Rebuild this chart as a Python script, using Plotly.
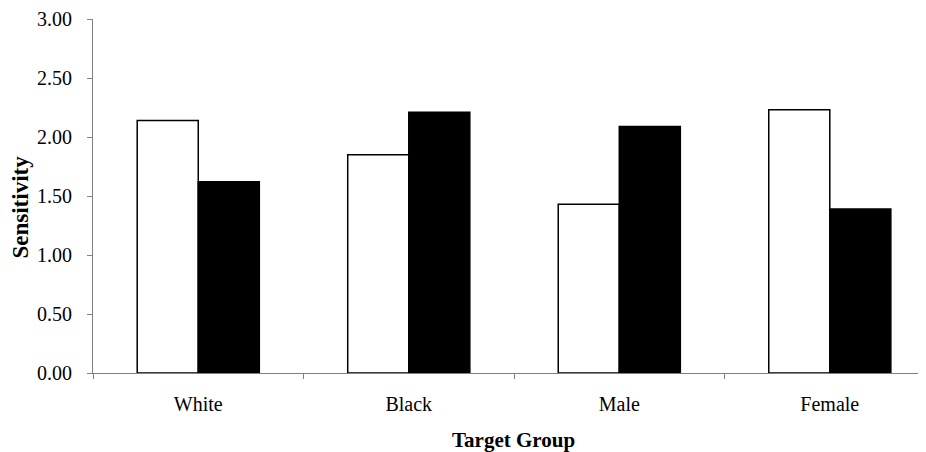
import plotly.graph_objects as go

categories = ["White", "Black", "Male", "Female"]
open_values = [2.14, 1.85, 1.43, 2.23]
filled_values = [1.62, 2.21, 2.09, 1.39]
y_tick_values = [0, 0.5, 1.0, 1.5, 2.0, 2.5, 3.0]

font_family = "Liberation Serif, Times New Roman, serif"

fig = go.Figure()
fig.add_trace(go.Bar(
    x=categories, y=open_values, name="Open",
    marker=dict(color="white", line=dict(color="black", width=1.5)),
))
fig.add_trace(go.Bar(
    x=categories, y=filled_values, name="Filled",
    marker=dict(color="black", line=dict(color="black", width=1.5)),
))

# The page body has an 8px default margin, so the figure is 8px smaller
# and its margins are reduced by 8px to land where the reference has them.
fig.update_layout(
    width=918, height=444,
    margin=dict(l=85, r=0, t=11, b=79, autoexpand=False),
    paper_bgcolor="white", plot_bgcolor="white",
    barmode="group", bargap=0.42, bargroupgap=0,
    showlegend=False,
    font=dict(family=font_family, size=20, color="black"),
)
fig.update_xaxes(
    type="category",
    range=[-0.5, 3.457],
    showline=True, linecolor="#808080", linewidth=1,
    ticks="outside", tickson="boundaries", ticklen=5, tickcolor="#808080",
    ticklabelstandoff=13,
    showgrid=False, zeroline=False, automargin=False,
)
fig.update_yaxes(
    range=[0, 3.0],
    tickvals=y_tick_values, tickformat=".2f",
    showline=True, linecolor="#808080", linewidth=1,
    ticks="outside", ticklen=5, tickcolor="#808080",
    ticklabelstandoff=11,
    showgrid=False, zeroline=False, automargin=False,
)
fig.add_annotation(
    text="<b>Target Group</b>", xref="paper", yref="paper",
    x=0.5054, y=-0.189, xanchor="center", yanchor="middle",
    showarrow=False, font=dict(family=font_family, size=21, color="black"),
)
fig.add_annotation(
    text="<b>Sensitivity</b>", xref="paper", yref="paper",
    x=-0.0876, y=0.4675, xanchor="center", yanchor="middle", textangle=-90,
    showarrow=False, font=dict(family=font_family, size=23, color="black"),
)

fig.write_html("out.html")
